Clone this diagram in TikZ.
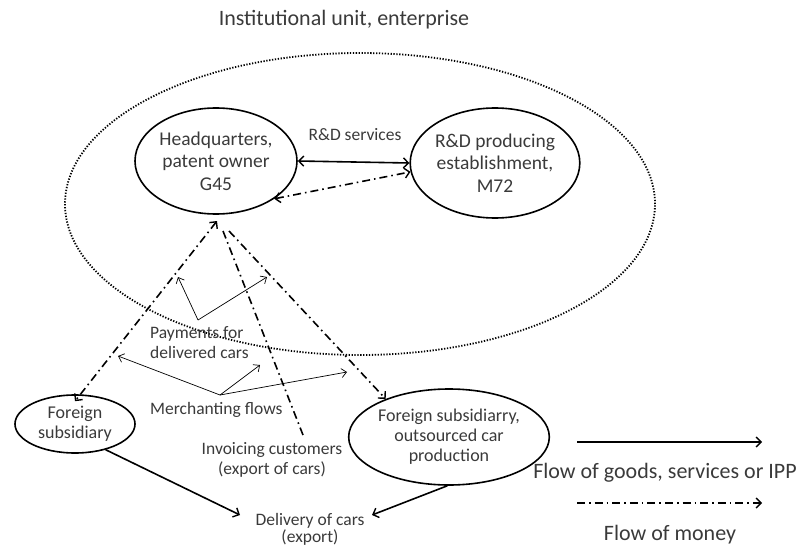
\documentclass[tikz,border=0pt]{standalone}
\usepackage{fontspec}
\setmainfont{Carlito}
\usetikzlibrary{shapes.geometric,arrows.meta}
\definecolor{txt}{HTML}{3A3A3A}
\definecolor{thin}{HTML}{7A7A7A}
\tikzset{
  >={Straight Barb[length=5pt,width=10pt,line width=1.4pt]},
  unitbox/.style={ellipse, draw, line width=1.8pt, dash pattern=on 1.3pt off 1.6pt, minimum width=590pt, minimum height=302pt, inner sep=0pt},
  entity/.style={ellipse, draw, line width=1.6pt, inner sep=0pt, align=center, text=txt},
  bigtext/.style={font=\fontsize{19.5}{22.5}\selectfont},
  smalltext/.style={font=\fontsize{18}{20}\selectfont},
  lbl/.style={text=txt, font=\fontsize{17.5}{20}\selectfont, inner sep=0pt},
  legendtext/.style={text=txt, font=\fontsize{22}{26}\selectfont},
  goods/.style={line width=1.6pt, ->},
  money/.style={line width=1.6pt, dash pattern=on 8pt off 4pt on 1.6pt off 4pt},
  pointer/.style={thin, line width=0.7pt, -{Straight Barb[length=5pt,width=9pt]}}
}
\begin{document}
\begin{tikzpicture}[x=1pt,y=-1pt]
\useasboundingbox (0,0) rectangle (802,548);
\node[legendtext] (title) at (344,20) {Institutional unit, enterprise};
\node[unitbox] (unit) at (360,204) {};
\node[entity, bigtext, minimum width=162pt, minimum height=106pt] (hq) at (216,161) {Headquarters,\\patent owner\\G45};
\node[entity, bigtext, minimum width=166pt, minimum height=110pt] (rd) at (495,163) {R\&D producing\\establishment,\\M72};
\node[entity, smalltext, minimum width=120pt, minimum height=58pt] (fs) at (75,424) {Foreign\\subsidiary};
\node[entity, smalltext, minimum width=188pt, minimum height=96pt] (fsr) at (449,437) {Foreign subsidiarry,\\outsourced car\\production};
\node[lbl] (rdserv) at (355,135) {R\&D services};
\node[lbl, align=left, anchor=west] (pay) at (150,343) {Payments for\\delivered cars};
\node[lbl, anchor=west] (merch) at (150,410) {Merchanting flows};
\node[lbl, align=center] (inv) at (272,460) {Invoicing customers\\(export of cars)};
\node[lbl, align=center, font=\fontsize{17.5}{17}\selectfont, anchor=north] (deliv) at (310,513) {Delivery of cars\\(export)};
\node[legendtext] (lg1) at (665,473) {Flow of goods, services or IPP};
\node[legendtext] (lg2) at (670,535) {Flow of money};
% coordinates
\coordinate (invtop) at (303,435);
\coordinate (dl) at (240,515);
\coordinate (dr) at (372,515);
\coordinate (payo) at (198,320);
\coordinate (pa1) at (178,277);
\coordinate (pa2) at (267,277);
\coordinate (mo) at (220,395);
\coordinate (ma1) at (118,356);
\coordinate (ma2) at (260,365);
\coordinate (ma3) at (347,372);
\coordinate (l1a) at (577,442);
\coordinate (l1b) at (762,442);
\coordinate (l2a) at (577,503);
\coordinate (l2b) at (762,503);
\coordinate (hqb1) at (217,221);
\coordinate (hqb2) at (223,231);
\coordinate (hqb3) at (229,231);
% goods
\draw[line width=1.6pt, <->] (hq.east) -- (rd.west);
\draw[goods] (fs.-40) -- (dl);
\draw[goods] (fsr.-92) -- (dr);
% money
\draw[money, <->] (hq.-33) -- (rd.186);
\draw[money, <->] (hqb1) -- ([yshift=-7pt]fs.north);
\draw[money] (hqb2) -- (invtop);
\draw[money, ->] (hqb3) -- (fsr.149);
% pointers
\draw[pointer] (payo) -- (pa1);
\draw[pointer] (payo) -- (pa2);
\draw[pointer] (mo) -- (ma1);
\draw[pointer] (mo) -- (ma2);
\draw[pointer] (mo) -- (ma3);
% legend
\draw[goods] (l1a) -- (l1b);
\draw[money, ->] (l2a) -- (l2b);
\end{tikzpicture}
\end{document}
